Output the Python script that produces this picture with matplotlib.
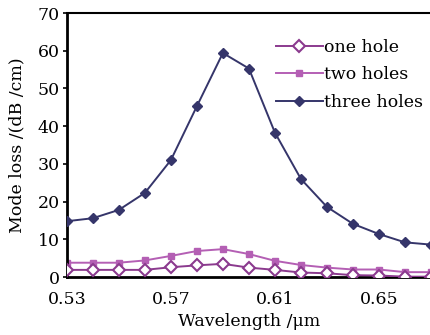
import matplotlib
matplotlib.use("Agg")
import matplotlib.pyplot as plt

wavelength = [0.53, 0.54, 0.55, 0.56, 0.57, 0.58, 0.59, 0.60,
              0.61, 0.62, 0.63, 0.64, 0.65, 0.66, 0.67]
one_hole = [1.9, 1.9, 1.9, 1.9, 2.6, 3.1, 3.5, 2.5,
            1.9, 1.2, 1.0, 0.5, 0.4, 0.1, 0.1]
two_holes = [3.8, 3.8, 3.8, 4.4, 5.6, 6.9, 7.4, 6.1,
             4.3, 3.2, 2.5, 2.0, 2.0, 1.3, 1.3]
three_holes = [14.8, 15.6, 17.8, 22.3, 31.0, 45.3, 59.4, 55.3,
               38.3, 26.0, 18.6, 14.1, 11.4, 9.2, 8.6]

plt.rcParams["font.family"] = ["DejaVu Serif"]
plt.rcParams["mathtext.fontset"] = "dejavuserif"

fig = plt.figure(figsize=(4.31, 3.35), dpi=100)
ax = fig.add_axes([0.155, 0.173, 0.845, 0.788])

ax.plot(wavelength, one_hole, color="#8b3a8e", marker="D", markersize=6.5,
        markerfacecolor="white", markeredgecolor="#8b3a8e", markeredgewidth=1.5,
        linewidth=1.4, label="one hole", zorder=3)
ax.plot(wavelength, two_holes, color="#b45fb4", marker="s", markersize=5,
        linewidth=1.4, label="two holes", zorder=2)
ax.plot(wavelength, three_holes, color="#35356a", marker="D", markersize=5.5,
        linewidth=1.4, label="three holes", zorder=4)

ax.set_xlim(0.53, 0.67)
ax.set_ylim(0, 70)
ax.set_xticks([0.53, 0.57, 0.61, 0.65])
ax.set_xticklabels(["0.53", "0.57", "0.61", "0.65"])
ax.set_yticks(range(0, 71, 10))

ax.tick_params(axis="y", direction="out", length=3, width=1.2, labelsize=12.5, pad=2)
ax.tick_params(axis="x", length=0, labelsize=12.5, pad=10)

ax.spines["right"].set_visible(False)
ax.spines["left"].set_linewidth(2)
ax.spines["bottom"].set_linewidth(2)
ax.spines["top"].set_linewidth(1.5)

ax.set_xlabel("Wavelength /μm", fontsize=12.5, labelpad=4)
ax.set_ylabel("Mode loss /(dB /cm)", fontsize=12.5, labelpad=9)

ax.legend(loc="upper right", bbox_to_anchor=(1.02, 0.962), frameon=False,
          fontsize=12.5, handlelength=2.7, handletextpad=0.05, labelspacing=0.62)

fig.savefig("out.png", dpi=100)
